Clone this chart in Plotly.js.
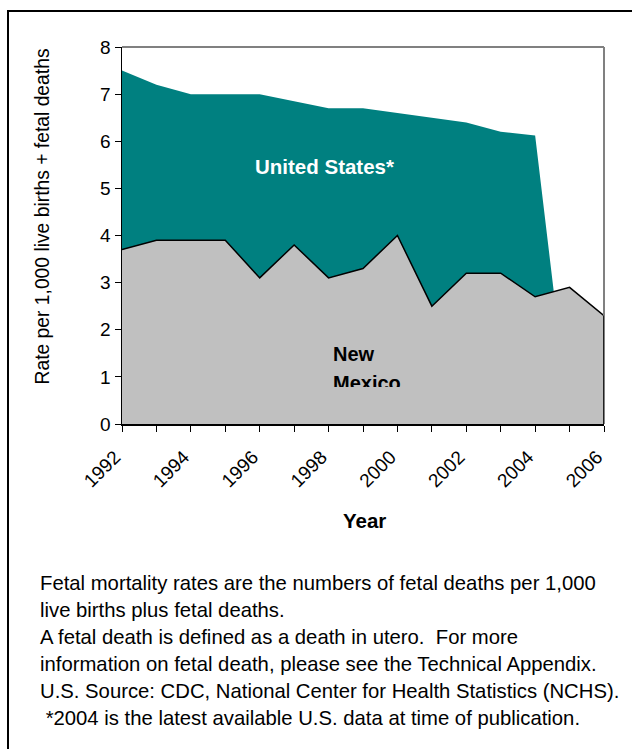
<!DOCTYPE html>
<html>
<head>
<meta charset="utf-8">
<script src="https://cdn.plot.ly/plotly-3.0.1.min.js"></script>
<style>html,body{margin:0;padding:0;background:#fff;}#chart{width:632px;height:749px;}</style>
</head>
<body>
<div id="chart"></div>
<script>
// ---- data ----
const years = [1992,1993,1994,1995,1996,1997,1998,1999,2000,2001,2002,2003,2004,2005,2006];
const tickLabels = ["1992","","1994","","1996","","1998","","2000","","2002","","2004","","2006"];
// US: 2004 is the latest available; the spreadsheet treats the missing years as 0
const usRate = [7.5,7.2,7.0,7.0,7.0,6.85,6.7,6.7,6.6,6.5,6.4,6.2,6.12,0,0];
const nmRate = [3.7,3.9,3.9,3.9,3.1,3.8,3.1,3.3,4.0,2.5,3.2,3.2,2.7,2.9,2.3];
const notes = [
  "Fetal mortality rates are the numbers of fetal deaths per 1,000",
  "live births plus fetal deaths.",
  "A fetal death is defined as a death in utero.  For more",
  "information on fetal death, please see the Technical Appendix.",
  "U.S. Source: CDC, National Center for Health Statistics (NCHS).",
  " *2004 is the latest available U.S. data at time of publication."
];

// ---- layout helpers (pixel -> paper) ----
const W = 632, H = 749;
const L = 122, R = 604, T = 47, B = 424;
const px = v => (v - L) / (R - L);
const py = v => (B - v) / (B - T);
const FONT = "Arial, 'Liberation Sans', sans-serif";

const traces = [
  {x: years, y: usRate, type: 'scatter', mode: 'lines', fill: 'tozeroy',
   fillcolor: '#008080', line: {color: '#008080', width: 0}, hoverinfo: 'skip'},
  {x: years, y: nmRate, type: 'scatter', mode: 'lines', fill: 'tozeroy',
   fillcolor: '#C0C0C0', line: {color: '#000000', width: 1.5}, hoverinfo: 'skip'}
];

const annotations = [
  {text: 'Rate per 1,000 live births + fetal deaths', xref: 'paper', yref: 'paper',
   x: px(42), y: py(216.5), textangle: -90, showarrow: false,
   xanchor: 'center', yanchor: 'middle', font: {family: FONT, size: 19.3, color: '#000'}},
  {text: '<b>Year</b>', xref: 'paper', yref: 'paper', x: px(364.5), y: py(520),
   showarrow: false, xanchor: 'center', yanchor: 'middle', font: {family: FONT, size: 20.5, color: '#000'}},
  {text: '<b>United States*</b>', xref: 'paper', yref: 'paper', x: px(324), y: py(166),
   showarrow: false, xanchor: 'center', yanchor: 'middle', font: {family: FONT, size: 20.5, color: '#fff'}},
  {text: '<b>New</b>', xref: 'paper', yref: 'paper', x: px(331), y: py(354),
   showarrow: false, xanchor: 'left', yanchor: 'middle', font: {family: FONT, size: 20, color: '#000'}},
  {text: '<b>Mexico</b>', xref: 'paper', yref: 'paper', x: px(331), y: py(383),
   showarrow: false, xanchor: 'left', yanchor: 'middle', font: {family: FONT, size: 20, color: '#000'}}
];
const noteY = [583, 610, 637, 664, 691, 718];
notes.forEach((t, i) => {
  annotations.push({text: t, xref: 'paper', yref: 'paper', x: px(38), y: py(noteY[i]),
    showarrow: false, xanchor: 'left', yanchor: 'middle',
    font: {family: FONT, size: 20.3, color: '#000'}});
});

const lastX = years[years.length - 1], lastNM = nmRate[nmRate.length - 1];
const shapes = [
  // plot frame (top / right, grey)
  {type: 'line', xref: 'paper', yref: 'paper', x0: 0, x1: 1, y0: 1, y1: 1, line: {color: '#808080', width: 2}},
  {type: 'line', xref: 'paper', yref: 'paper', x0: 1, x1: 1, y0: 0, y1: 1, line: {color: '#808080', width: 2}},
  // right edge of the New Mexico area outline
  {type: 'line', xref: 'x', yref: 'y', x0: lastX, x1: lastX, y0: 0, y1: lastNM, line: {color: '#000', width: 1.5}, layer: 'above'},
  // outer border of the figure
  {type: 'rect', xref: 'paper', yref: 'paper', x0: px(8), x1: px(660), y0: py(11), y1: py(780),
   line: {color: '#000', width: 2}, fillcolor: 'rgba(0,0,0,0)'}
];

const layout = {
  width: W, height: H,
  margin: {l: L, r: W - R, t: T, b: H - B, pad: 0},
  paper_bgcolor: '#fff', plot_bgcolor: '#fff',
  showlegend: false,
  xaxis: {
    range: [years[0], years[years.length - 1]], tickvals: years, ticktext: tickLabels,
    tickangle: -45, ticks: 'outside', ticklen: 6, tickcolor: '#000', tickwidth: 1,
    ticklabelstandoff: 7, ticklabelshift: -7,
    showline: true, linecolor: '#000', linewidth: 1.5, showgrid: false, zeroline: false,
    tickfont: {family: FONT, size: 19, color: '#000'}, fixedrange: true
  },
  yaxis: {
    range: [0, 8], dtick: 1, ticks: 'outside', ticklen: 6, tickcolor: '#000', tickwidth: 1,
    showline: true, linecolor: '#000', linewidth: 1.5, showgrid: false, zeroline: false,
    tickfont: {family: FONT, size: 19, color: '#000'}, fixedrange: true
  },
  annotations: annotations,
  shapes: shapes
};

Plotly.newPlot('chart', traces, layout, {displayModeBar: false, staticPlot: true}).then(() => {
  // the "Mexico" label is cut off by its text box in the original
  const t = document.querySelector('.annotation[data-index="4"] text');
  if (t) {
    const r = t.getBoundingClientRect();
    const cut = Math.max(0, r.bottom - 387);
    t.style.clipPath = 'inset(0px 0px ' + cut + 'px 0px)';
  }
});
</script>
</body>
</html>
